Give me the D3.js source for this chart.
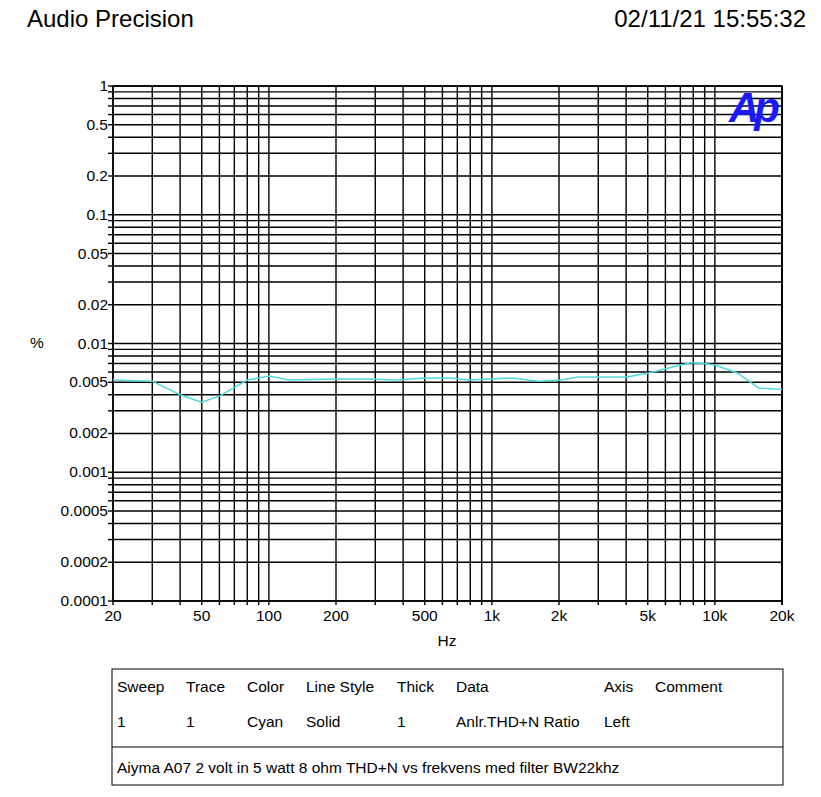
<!DOCTYPE html>
<html><head><meta charset="utf-8">
<script src="https://cdn.jsdelivr.net/npm/d3@7"></script>
<style>body{margin:0;background:#fff}text{font-family:"Liberation Sans",Arial,sans-serif}</style>
</head><body><svg id="c" width="821" height="797"></svg>
<script>
const freqs = [20,30,40,50,60,80,100,123,202,277,380,500,655,786,1240,1620,2040,2440,4020,5050,6340,7780,8900,10000,12600,15800,20000];
const thd   = [0.0052,0.0051,0.0040,0.0035,0.0039,0.0052,0.0056,0.0052,0.0053,0.0053,0.0052,0.0054,0.0054,0.0052,0.0054,0.0051,0.0052,0.0055,0.0055,0.0059,0.0065,0.0071,0.0070,0.0068,0.0059,0.0045,0.0044];
const xTicks = [20,50,100,200,500,1000,2000,5000,10000,20000];
const xTickLabels = ["20","50","100","200","500","1k","2k","5k","10k","20k"];
const yTicks = [1,0.5,0.2,0.1,0.05,0.02,0.01,0.005,0.002,0.001,0.0005,0.0002,0.0001];
const yTickLabels = ["1","0.5","0.2","0.1","0.05","0.02","0.01","0.005","0.002","0.001","0.0005","0.0002","0.0001"];
const tableHeader = ["Sweep","Trace","Color","Line Style","Thick","Data","Axis","Comment"];
const tableRow = ["1","1","Cyan","Solid","1","Anlr.THD+N Ratio","Left",""];
const comment = "Aiyma A07 2 volt in 5 watt 8 ohm THD+N vs frekvens med filter BW22khz";

const svg = d3.select("#c");
const L=113,R=782,T=86,B=601, FS=15.5;
const x = d3.scaleLog().domain([20,20000]).range([L,R]);
const y = d3.scaleLog().domain([0.0001,1]).range([B,T]);

svg.append("text").attr("x",27).attr("y",27).attr("font-size",24).text("Audio Precision");
svg.append("text").attr("x",806).attr("y",27).attr("font-size",24).attr("text-anchor","end").text("02/11/21 15:55:32");

const xg=[]; for(let d=10;d<=10000;d*=10) for(let m=1;m<=9;m++){const v=d*m; if(v>=20&&v<=20000) xg.push(v);} xg.push(20000);
const yg=[]; for(let d=0.0001;d<1;d*=10) for(let m=1;m<=9;m++) yg.push(d*m); yg.push(1);
const g=svg.append("g").attr("stroke","#000").attr("stroke-width",1.4);
g.selectAll(".v").data(xg).join("line").attr("x1",d=>x(d)).attr("x2",d=>x(d)).attr("y1",T).attr("y2",B);
g.selectAll(".h").data(yg).join("line").attr("x1",L).attr("x2",R).attr("y1",d=>y(d)).attr("y2",d=>y(d));
g.selectAll(".t").data(yg).join("line").attr("x1",L-5).attr("x2",L).attr("y1",d=>y(d)).attr("y2",d=>y(d));
g.selectAll(".b").data(xg).join("line").attr("x1",d=>x(d)).attr("x2",d=>x(d)).attr("y1",B).attr("y2",B+4);
svg.append("rect").attr("x",L).attr("y",T).attr("width",R-L).attr("height",B-T).attr("fill","none").attr("stroke","#000").attr("stroke-width",1.6);

svg.selectAll(".yl").data(yTicks).join("text").attr("x",L-5).attr("y",d=>y(d)+5).attr("text-anchor","end").attr("font-size",FS).text((d,i)=>yTickLabels[i]);
svg.selectAll(".xl").data(xTicks).join("text").attr("x",d=>x(d)).attr("y",621).attr("text-anchor","middle").attr("font-size",FS).text((d,i)=>xTickLabels[i]);
svg.append("text").attr("x",30).attr("y",348).attr("font-size",FS).text("%");
svg.append("text").attr("x",447).attr("y",646).attr("text-anchor","middle").attr("font-size",FS).text("Hz");

svg.append("text").attr("x",729).attr("y",122).attr("font-size",42).attr("font-weight","bold").attr("font-style","italic").attr("fill","#1a1aff").attr("letter-spacing",-5).text("Ap");

svg.append("path").datum(freqs.map((f,i)=>[f,thd[i]])).attr("fill","none").attr("stroke","#4fdada").attr("stroke-width",1.5)
  .attr("d",d3.line().x(d=>x(d[0])).y(d=>y(d[1])));

const tb=svg.append("g");
tb.append("rect").attr("x",112).attr("y",669).attr("width",671).attr("height",116).attr("fill","none").attr("stroke","#000");
tb.append("line").attr("x1",112).attr("x2",783).attr("y1",747).attr("y2",747).attr("stroke","#000");
const cx=[117,186,247,306,397,456,604,655];
tb.selectAll(".hd").data(tableHeader).join("text").attr("x",(d,i)=>cx[i]).attr("y",692).attr("font-size",FS).text(d=>d);
tb.selectAll(".rw").data(tableRow).join("text").attr("x",(d,i)=>cx[i]).attr("y",727).attr("font-size",FS).text(d=>d);
tb.append("text").attr("x",117).attr("y",773).attr("font-size",FS).text(comment);
</script></body></html>
